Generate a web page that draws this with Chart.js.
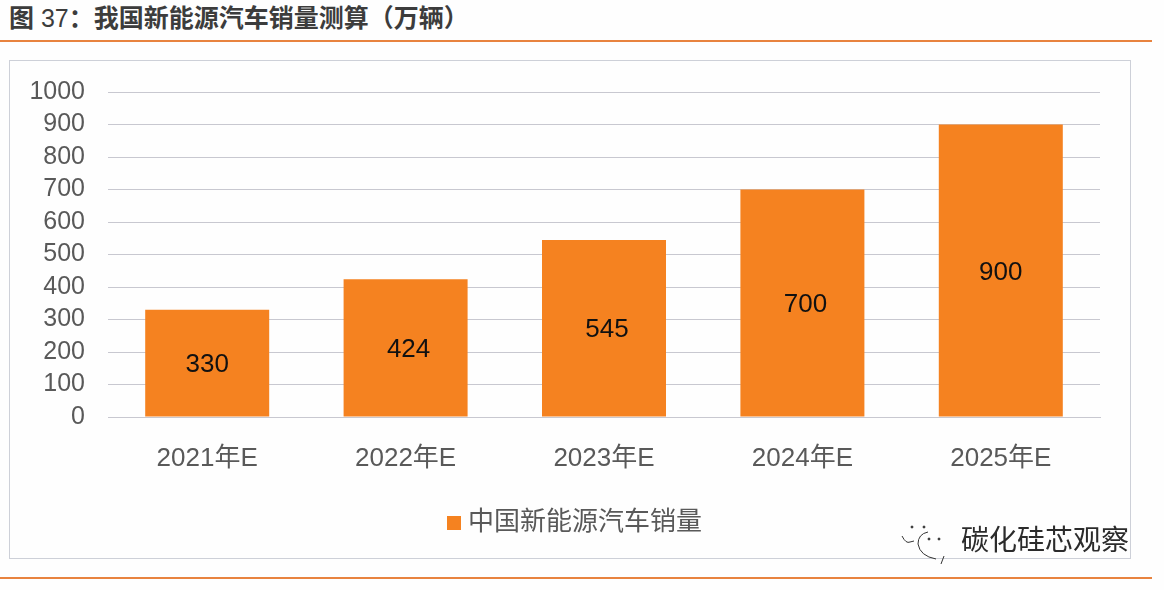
<!DOCTYPE html>
<html>
<head>
<meta charset="utf-8">
<script src="https://cdn.jsdelivr.net/npm/chart.js@4"></script>
<style>
  html,body{margin:0;padding:0;background:#fefefe;}
  body{width:1164px;height:590px;position:relative;overflow:hidden;font-family:"Liberation Sans","Noto Sans CJK SC",sans-serif;}
  #title{position:absolute;left:9px;top:3px;font-size:25px;line-height:30px;color:#3c3c3c;white-space:nowrap;}
  #title b{font-weight:700;}
  .rule{position:absolute;left:0;width:1152px;height:2px;background:#e8833f;}
  #frame{position:absolute;left:9px;top:60px;width:1122px;height:499px;border:1px solid #cdd0d8;box-sizing:border-box;background:#fefefe;}
  canvas{position:absolute;left:0;top:0;}
  #mark{position:absolute;left:961px;top:522px;font-size:28px;line-height:38px;color:#2b2b2b;white-space:nowrap;}
  #icon{position:absolute;left:900px;top:522px;}
</style>
</head>
<body>
<div id="title"><b>图</b> 37<b>：我国新能源汽车销量测算（万辆）</b></div>
<div class="rule" style="top:40px"></div>
<div id="frame"></div>
<div style="position:absolute;left:0;top:0;width:1164px;height:590px"><canvas id="salesChart"></canvas></div>
<svg id="icon" width="50" height="42" fill="none" stroke="#333" stroke-width="1">
  <path d="M2 14 Q6 22 10 20 L14 19"/>
  <path d="M28 10 Q18 12 18 22 Q20 34 36 37"/>
  <path d="M44 34 L41 42"/>
  <circle cx="12" cy="5" r="1" fill="#333"/><circle cx="24" cy="5" r="1" fill="#333"/>
  <circle cx="29" cy="17" r="1" fill="#333"/><circle cx="39" cy="17" r="1" fill="#333"/>
</svg>
<div id="mark">碳化硅芯观察</div>
<div class="rule" style="top:577px"></div>
<script>
const categories = ['2021年E','2022年E','2023年E','2024年E','2025年E'];
const salesValues = [330,424,545,700,900];
const seriesName = '中国新能源汽车销量';

const FONT = '"Liberation Sans","Noto Sans CJK SC",sans-serif';
const BAR_COLOR = '#f58220';

// value labels in the middle of each bar, the source has them a bit off centre
const labelNudge = [0,3,3,3,0];
const barLabels = {
  id:'barLabels',
  beforeDraw(chart){
    // legend is centred on the frame, not on the plot
    chart.legend.left = 55;
  },
  afterDatasetsDraw(chart){
    const ctx = chart.ctx;
    const meta = chart.getDatasetMeta(0);
    ctx.save();
    ctx.font = '26px ' + FONT;
    ctx.fillStyle = '#111';
    ctx.textAlign = 'center';
    ctx.textBaseline = 'middle';
    meta.data.forEach((bar,i)=>{
      ctx.fillText(String(salesValues[i]), bar.x + labelNudge[i], (bar.y + bar.base)/2 + 2);
    });
    ctx.restore();
  }
};

// square swatch, as a point style so the gap to the legend text can be tighter
function legendSwatch(){
  const c = document.createElement('canvas');
  c.width = 14; c.height = 14;
  const g = c.getContext('2d');
  g.fillStyle = BAR_COLOR;
  g.fillRect(0,0,14,14);
  return c;
}

window.addEventListener('load', ()=>{
  const ctx = document.getElementById('salesChart').getContext('2d');
  new Chart(ctx, {
    type:'bar',
    data:{ labels:categories, datasets:[{label:seriesName, data:salesValues, backgroundColor:BAR_COLOR, categoryPercentage:1, barPercentage:0.625}] },
    options:{
      responsive:true,
      maintainAspectRatio:false,
      animation:false,
      layout:{padding:{left:0,right:64,top:92,bottom:44}},
      plugins:{
        tooltip:{enabled:false},
        legend:{
          position:'bottom',
          labels:{usePointStyle:true,pointStyle:legendSwatch(),pointStyleWidth:2,boxHeight:14,color:'#595959',padding:10,font:{family:FONT,size:26}}
        }
      },
      scales:{
        x:{
          grid:{display:false},
          border:{color:'#c8c8d0'},
          ticks:{color:'#595959',padding:18,maxRotation:0,font:{family:FONT,size:26}},
          afterFit(scale){ scale.height = 83; }
        },
        y:{
          min:0,max:1000,
          grid:{color:'#c8c8d0',drawTicks:false},
          border:{display:false},
          ticks:{stepSize:100,autoSkip:false,color:'#595959',padding:23,font:{family:FONT,size:25},callback:v=>String(v)},
          afterFit(scale){ scale.width = 108; }
        }
      }
    },
    plugins:[barLabels]
  });
});
</script>
</body>
</html>
